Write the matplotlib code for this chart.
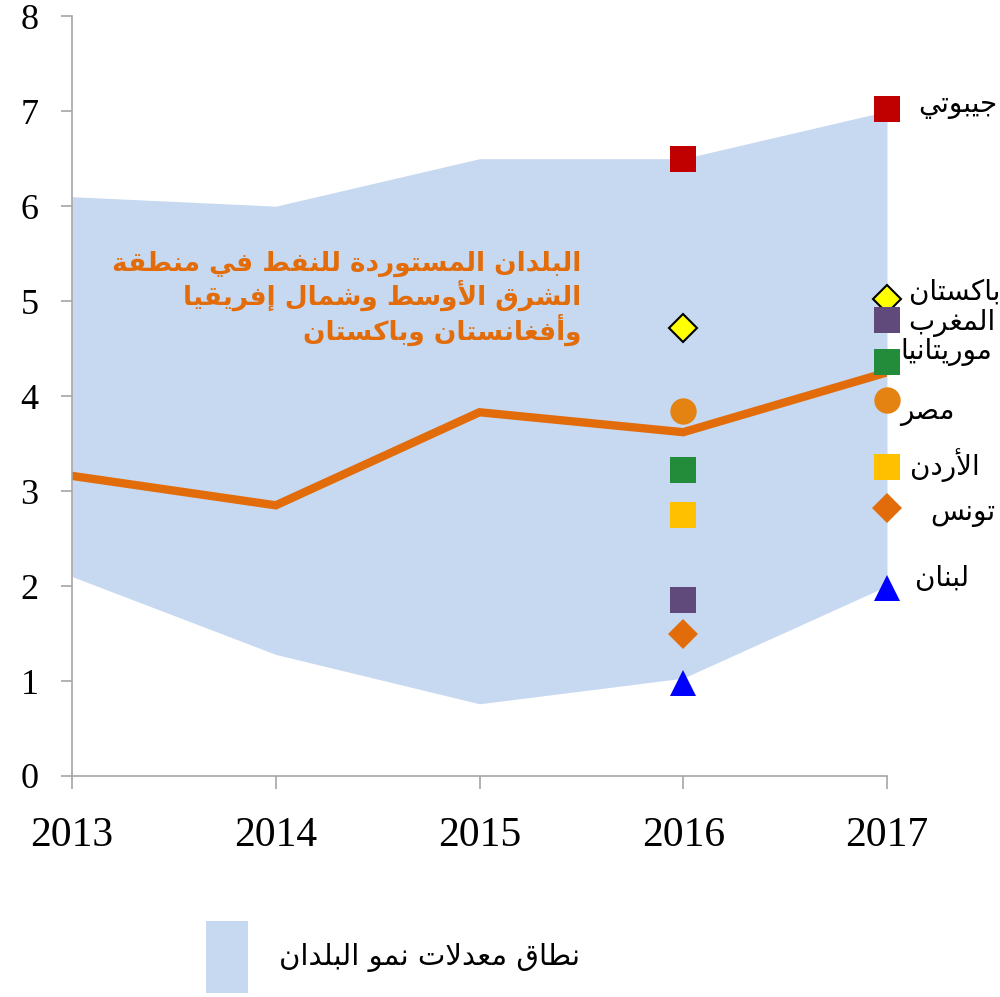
import matplotlib
matplotlib.use("Agg")
import matplotlib.pyplot as plt
from matplotlib.patches import Patch

# data
years = [2013, 2014, 2015, 2016, 2017]
band_high = [6.1, 6.0, 6.5, 6.5, 7.0]
band_low = [2.1, 1.28, 0.76, 1.03, 2.0]
region_avg = [3.16, 2.85, 3.83, 3.62, 4.25]

countries = ["جيبوتي", "باكستان", "المغرب", "موريتانيا", "مصر", "الأردن", "تونس", "لبنان"]
growth_2016 = [6.5, 4.72, 1.85, 3.22, 3.84, 2.75, 1.5, 0.98]
growth_2017 = [7.02, 5.02, 4.8, 4.36, 3.96, 3.25, 2.82, 1.98]

title_lines = ["البلدان المستوردة للنفط في منطقة", "الشرق الأوسط وشمال إفريقيا", "وأفغانستان وباكستان"]
legend_label = "نطاق معدلات نمو البلدان"

# marker styles per country
markers = ["s", "D", "s", "s", "o", "s", "D", "^"]
colors = ["#C00000", "#FFFF00", "#604A7B", "#238C3A", "#E48312", "#FFC000", "#E36C0A", "#0000FF"]
msizes = [19, 14, 19, 19, 19, 19, 15, 19]
# label placement beside the 2017 markers (y in data, x offset in pixels)
label_y = [7.07, 5.1, 4.77, 4.46, 3.83, 3.27, 2.77, 2.08]
label_dx = [31, 22, 21, 13, 13, 23, 43, 28]

# minimal arabic shaping (presentation forms) since matplotlib has no bidi
FORMS = {
    "\u0627": (0xFE8D, 0xFE8E), "\u0623": (0xFE83, 0xFE84), "\u0625": (0xFE87, 0xFE88),
    "\u0628": (0xFE8F, 0xFE90, 0xFE91, 0xFE92), "\u0629": (0xFE93, 0xFE94),
    "\u062A": (0xFE95, 0xFE96, 0xFE97, 0xFE98), "\u062C": (0xFE9D, 0xFE9E, 0xFE9F, 0xFEA0),
    "\u062F": (0xFEA9, 0xFEAA), "\u0631": (0xFEAD, 0xFEAE),
    "\u0633": (0xFEB1, 0xFEB2, 0xFEB3, 0xFEB4), "\u0634": (0xFEB5, 0xFEB6, 0xFEB7, 0xFEB8),
    "\u0635": (0xFEB9, 0xFEBA, 0xFEBB, 0xFEBC), "\u0637": (0xFEC1, 0xFEC2, 0xFEC3, 0xFEC4),
    "\u0639": (0xFEC9, 0xFECA, 0xFECB, 0xFECC), "\u063A": (0xFECD, 0xFECE, 0xFECF, 0xFED0),
    "\u0641": (0xFED1, 0xFED2, 0xFED3, 0xFED4), "\u0642": (0xFED5, 0xFED6, 0xFED7, 0xFED8),
    "\u0643": (0xFED9, 0xFEDA, 0xFEDB, 0xFEDC), "\u0644": (0xFEDD, 0xFEDE, 0xFEDF, 0xFEE0),
    "\u0645": (0xFEE1, 0xFEE2, 0xFEE3, 0xFEE4), "\u0646": (0xFEE5, 0xFEE6, 0xFEE7, 0xFEE8),
    "\u0648": (0xFEED, 0xFEEE), "\u064A": (0xFEF1, 0xFEF2, 0xFEF3, 0xFEF4),
}
LAM_ALEF = {"\u0627": (0xFEFB, 0xFEFC), "\u0623": (0xFEF7, 0xFEF8), "\u0625": (0xFEF9, 0xFEFA)}


def shape_ar(text):
    toks = []
    i = 0
    while i < len(text):
        c = text[i]
        if c == "\u0644" and i + 1 < len(text) and text[i + 1] in LAM_ALEF:
            toks.append(("LA", text[i + 1]))
            i += 2
        else:
            toks.append(("C", c))
            i += 1

    def dual(t):
        return t is not None and t[0] == "C" and len(FORMS.get(t[1], ())) == 4

    def letter(t):
        return t is not None and (t[0] == "LA" or t[1] in FORMS)

    out = []
    for k, (kind, c) in enumerate(toks):
        prev = toks[k - 1] if k > 0 else None
        nxt = toks[k + 1] if k + 1 < len(toks) else None
        jp = dual(prev)
        if kind == "LA":
            f = LAM_ALEF[c]
            out.append(chr(f[1] if jp else f[0]))
            continue
        if c not in FORMS:
            out.append(c)
            continue
        f = FORMS[c]
        jn = len(f) == 4 and letter(nxt)
        if jp and jn:
            out.append(chr(f[3]))
        elif jp:
            out.append(chr(f[1]))
        elif jn:
            out.append(chr(f[2]))
        else:
            out.append(chr(f[0]))
    return "".join(reversed(out))


ar_font = "DejaVu Sans"
axis_grey = "#A6A6A6"

fig = plt.figure(figsize=(10, 9.97), dpi=100)
ax = fig.add_axes([0.072, 0.2217, 0.815, 0.762])

ax.fill_between(years, band_low, band_high, color="#C6D9F0", linewidth=0, zorder=1)
ax.plot(years, region_avg, color="#E36C0A", linewidth=6, zorder=2, solid_joinstyle="miter")

for i, name in enumerate(countries):
    edge = "black" if colors[i] == "#FFFF00" else colors[i]
    mew = 1.5 if colors[i] == "#FFFF00" else 0
    for x, y in ((2016, growth_2016[i]), (2017, growth_2017[i])):
        ax.plot([x], [y], marker=markers[i], markersize=msizes[i], color=colors[i],
                markeredgecolor=edge, markeredgewidth=mew, linestyle="none",
                clip_on=False, zorder=3)
    ax.annotate(shape_ar(name), xy=(2017, label_y[i]), xytext=(label_dx[i], 0),
                textcoords="offset pixels", ha="left", va="center",
                fontsize=20, family=ar_font, color="black", annotation_clip=False)

ax.text(2015.5, 5.03, "\n".join(shape_ar(t) for t in title_lines), ha="right", va="center",
        multialignment="right", fontsize=19, fontweight="bold", family=ar_font,
        color="#E36C0A", linespacing=1.1, zorder=4)

ax.set_xlim(2013, 2017)
ax.set_ylim(0, 8)
ax.set_xticks(years)
ax.set_xticklabels([str(y) for y in years])
ax.set_yticks(range(0, 9))
for s in ("top", "right"):
    ax.spines[s].set_visible(False)
for s in ("left", "bottom"):
    ax.spines[s].set_color(axis_grey)
    ax.spines[s].set_linewidth(1.2)
ax.tick_params(axis="y", direction="out", length=8, width=1.2, color=axis_grey,
               labelsize=26, pad=16)
ax.tick_params(axis="x", direction="out", length=9, width=1.2, color=axis_grey,
               labelsize=30, pad=20)
for lab in ax.get_xticklabels() + ax.get_yticklabels():
    lab.set_family("Liberation Serif")

handle = Patch(facecolor="#C6D9F0", edgecolor="none")
fig.legend([handle], [shape_ar(legend_label)], loc="upper left",
           bbox_to_anchor=(0.206, 1 - 921 / 997), frameon=False, borderpad=0,
           borderaxespad=0, handlelength=1.45, handleheight=3.4, handletextpad=1.05,
           prop={"family": ar_font, "size": 21})

fig.savefig("out.png", dpi=100)
